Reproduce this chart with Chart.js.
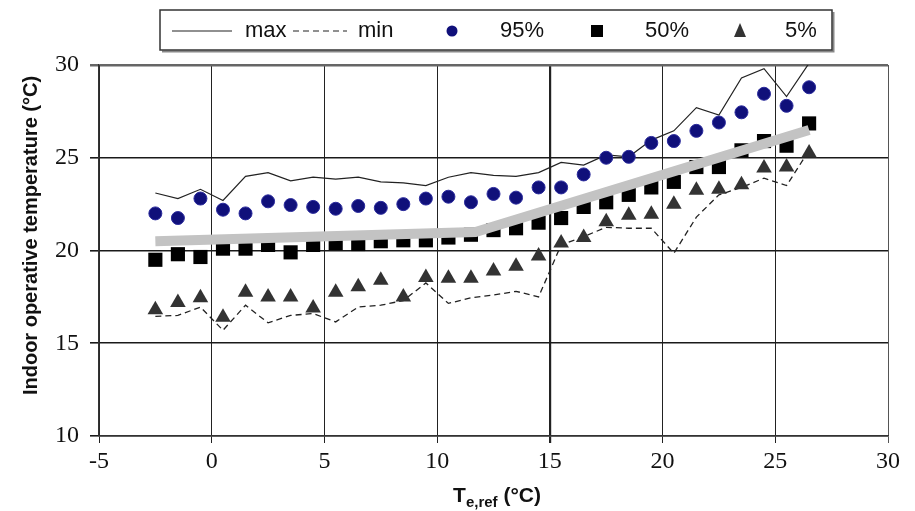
<!DOCTYPE html>
<html>
<head>
<meta charset="utf-8">
<script src="https://cdn.jsdelivr.net/npm/chart.js@4"></script>
<style>
  html, body { margin: 0; padding: 0; background: #fff; }
  #wrap { width: 915px; height: 511px; }
</style>
</head>
<body>
<div id="wrap"><canvas id="indoorTempChart" width="915" height="511"></canvas></div>
<script>
// reference outdoor temperature (bin centres)
const tempRef = [-2.5, -1.5, -0.5, 0.5, 1.5, 2.5, 3.5, 4.5, 5.5, 6.5, 7.5, 8.5, 9.5, 10.5, 11.5,
                 12.5, 13.5, 14.5, 15.5, 16.5, 17.5, 18.5, 19.5, 20.5, 21.5, 22.5, 23.5, 24.5, 25.5, 26.5];

const maxValues = [23.1, 22.8, 23.3, 22.7, 24.0, 24.2, 23.75, 23.95, 23.85, 23.95, 23.7, 23.65, 23.5, 23.95, 24.2,
                   24.05, 24.0, 24.2, 24.75, 24.6, 25.15, 25.05, 25.95, 26.45, 27.7, 27.3, 29.3, 29.8, 28.3, 30.1];
const minValues = [16.45, 16.5, 16.95, 15.7, 17.05, 16.1, 16.5, 16.6, 16.15, 16.95, 17.05, 17.3, 18.25, 17.15, 17.45,
                   17.6, 17.8, 17.5, 20.3, 20.75, 21.25, 21.2, 21.2, 19.85, 21.8, 23.0, 23.4, 23.9, 23.5, 25.4];
const p95Values = [22.0, 21.75, 22.8, 22.2, 22.0, 22.65, 22.45, 22.35, 22.25, 22.4, 22.3, 22.5, 22.8, 22.9, 22.6,
                   23.05, 22.85, 23.4, 23.4, 24.1, 25.0, 25.05, 25.8, 25.9, 26.45, 26.9, 27.45, 28.45, 27.8, 28.8];
const p50Values = [19.5, 19.8, 19.65, 20.1, 20.1, 20.3, 19.9, 20.3, 20.4, 20.35, 20.5, 20.55, 20.55, 20.7, 20.85,
                   21.1, 21.2, 21.5, 21.75, 22.35, 22.6, 23.0, 23.4, 23.7, 24.5, 24.5, 25.4, 25.9, 25.65, 26.85];
const p5Values = [16.8, 17.2, 17.45, 16.4, 17.75, 17.5, 17.5, 16.9, 17.75, 18.05, 18.4, 17.5, 18.55, 18.5, 18.5,
                  18.9, 19.15, 19.7, 20.4, 20.7, 21.55, 21.9, 21.95, 22.5, 23.25, 23.3, 23.55, 24.45, 24.5, 25.25];

// thick grey comfort line
const comfortX = [-2.5, 11.7, 26.5];
const comfortY = [20.5, 21.0, 26.5];

const xTicks = [-5, 0, 5, 10, 15, 20, 25, 30];
const yTicks = [10, 15, 20, 25, 30];

const legendNames = ['max', 'min', '95%', '50%', '5%'];

function toPoints(xs, ys) {
    return xs.map((x, i) => ({ x: x, y: ys[i] }));
}

const tickFont = { family: "'Liberation Serif', serif", size: 24 };

// legend box + axis titles drawn on the canvas
const decorations = {
    id: 'decorations',
    afterDraw(chart) {
        const ctx = chart.ctx;
        const area = chart.chartArea;
        ctx.save();

        // y axis title
        ctx.translate(31, (area.top + area.bottom) / 2 - 15);
        ctx.rotate(-Math.PI / 2);
        ctx.fillStyle = '#111';
        ctx.font = "bold 20px 'Liberation Sans', sans-serif";
        ctx.textAlign = 'center';
        ctx.textBaseline = 'middle';
        ctx.fillText('Indoor operative temperature (°C)', 0, 0);
        ctx.restore();

        // x axis title with subscript
        ctx.save();
        ctx.fillStyle = '#111';
        ctx.textBaseline = 'alphabetic';
        ctx.textAlign = 'left';
        const parts = [
            { t: 'T', f: "bold 21px 'Liberation Sans', sans-serif", dy: 0 },
            { t: 'e,ref', f: "bold 15px 'Liberation Sans', sans-serif", dy: 5 },
            { t: ' (°C)', f: "bold 21px 'Liberation Sans', sans-serif", dy: 0 }
        ];
        let total = 0;
        parts.forEach(p => { ctx.font = p.f; total += ctx.measureText(p.t).width; });
        let px = 497 - total / 2;
        parts.forEach(p => {
            ctx.font = p.f;
            ctx.fillText(p.t, px, 502 + p.dy);
            px += ctx.measureText(p.t).width;
        });
        ctx.restore();

        // legend
        ctx.save();
        const bx = 160, by = 10, bw = 672, bh = 40;
        ctx.fillStyle = '#fff';
        ctx.fillRect(bx, by, bw, bh);
        ctx.strokeStyle = '#888';
        ctx.lineWidth = 2;
        ctx.beginPath();
        ctx.moveTo(bx + 2, by + bh + 1.5);
        ctx.lineTo(bx + bw + 1.5, by + bh + 1.5);
        ctx.lineTo(bx + bw + 1.5, by + 2);
        ctx.stroke();
        ctx.strokeStyle = '#333';
        ctx.lineWidth = 1.5;
        ctx.strokeRect(bx, by, bw, bh);

        const cy = by + bh / 2 + 1;
        ctx.strokeStyle = '#222';
        ctx.lineWidth = 1.2;
        ctx.beginPath();
        ctx.moveTo(172, cy);
        ctx.lineTo(232, cy);
        ctx.stroke();
        ctx.setLineDash([6, 4]);
        ctx.beginPath();
        ctx.moveTo(293, cy);
        ctx.lineTo(347, cy);
        ctx.stroke();
        ctx.setLineDash([]);

        ctx.fillStyle = '#10107a';
        ctx.beginPath();
        ctx.arc(452, cy, 5.5, 0, Math.PI * 2);
        ctx.fill();
        ctx.fillStyle = '#000';
        ctx.fillRect(591, cy - 6, 12, 12);
        ctx.fillStyle = '#333';
        ctx.beginPath();
        ctx.moveTo(740, cy - 8);
        ctx.lineTo(746, cy + 6);
        ctx.lineTo(734, cy + 6);
        ctx.closePath();
        ctx.fill();

        ctx.fillStyle = '#111';
        ctx.font = "22px 'Liberation Sans', sans-serif";
        ctx.textBaseline = 'middle';
        ctx.textAlign = 'left';
        const textX = [245, 358, 500, 645, 785];
        legendNames.forEach((name, i) => ctx.fillText(name, textX[i], cy));
        ctx.restore();
    }
};

const ctx = document.getElementById('indoorTempChart');

new Chart(ctx, {
    type: 'scatter',
    data: {
        datasets: [
            {
                label: 'comfort',
                data: toPoints(comfortX, comfortY),
                showLine: true,
                borderColor: '#c3c3c3',
                borderWidth: 10,
                borderCapStyle: 'butt',
                pointRadius: 0,
                order: 0
            },
            {
                label: legendNames[0],
                data: toPoints(tempRef, maxValues),
                showLine: true,
                borderColor: '#222',
                borderWidth: 1.2,
                pointRadius: 0,
                order: 5
            },
            {
                label: legendNames[1],
                data: toPoints(tempRef, minValues),
                showLine: true,
                borderColor: '#222',
                borderWidth: 1.3,
                borderDash: [6, 4],
                pointRadius: 0,
                order: 5
            },
            {
                label: legendNames[2],
                data: toPoints(tempRef, p95Values),
                pointStyle: 'circle',
                pointRadius: 6.5,
                backgroundColor: '#10107a',
                borderColor: '#2a2a9c',
                borderWidth: 1,
                order: 2
            },
            {
                label: legendNames[3],
                data: toPoints(tempRef, p50Values),
                pointStyle: 'rect',
                pointRadius: 10,
                backgroundColor: '#000',
                borderColor: '#000',
                borderWidth: 0,
                order: 2
            },
            {
                label: legendNames[4],
                data: toPoints(tempRef, p5Values),
                pointStyle: 'triangle',
                pointRadius: 9,
                backgroundColor: '#333',
                borderColor: '#333',
                borderWidth: 0,
                order: 2
            }
        ]
    },
    options: {
        responsive: false,
        animation: false,
        layout: { padding: { top: 65, right: 27, left: 0, bottom: 0 } },
        plugins: {
            legend: { display: false },
            tooltip: { enabled: false }
        },
        scales: {
            x: {
                type: 'linear',
                min: -5,
                max: 30,
                afterBuildTicks: (axis) => { axis.ticks = xTicks.map(v => ({ value: v })); },
                afterFit: (axis) => { axis.height = 75; },
                ticks: { font: tickFont, color: '#111', padding: 4, maxRotation: 0 },
                grid: {
                    color: (c) => (c.tick && c.tick.value === 30) ? '#555' : '#222',
                    lineWidth: (c) => (c.tick && c.tick.value === 15) ? 2.2 : 1,
                    tickLength: 7
                },
                border: { color: '#333', width: 1.5 }
            },
            y: {
                type: 'linear',
                min: 10,
                max: 30,
                afterBuildTicks: (axis) => { axis.ticks = yTicks.map(v => ({ value: v })); },
                afterFit: (axis) => { axis.width = 99; },
                ticks: { font: tickFont, color: '#111', padding: 11 },
                grid: {
                    color: (c) => (c.tick && c.tick.value === 30) ? '#666' : '#1a1a1a',
                    lineWidth: (c) => (c.tick && c.tick.value === 30) ? 2.5 : 1.6,
                    tickLength: 9
                },
                border: { color: '#333', width: 1.5 }
            }
        }
    },
    plugins: [decorations]
});
</script>
</body>
</html>
